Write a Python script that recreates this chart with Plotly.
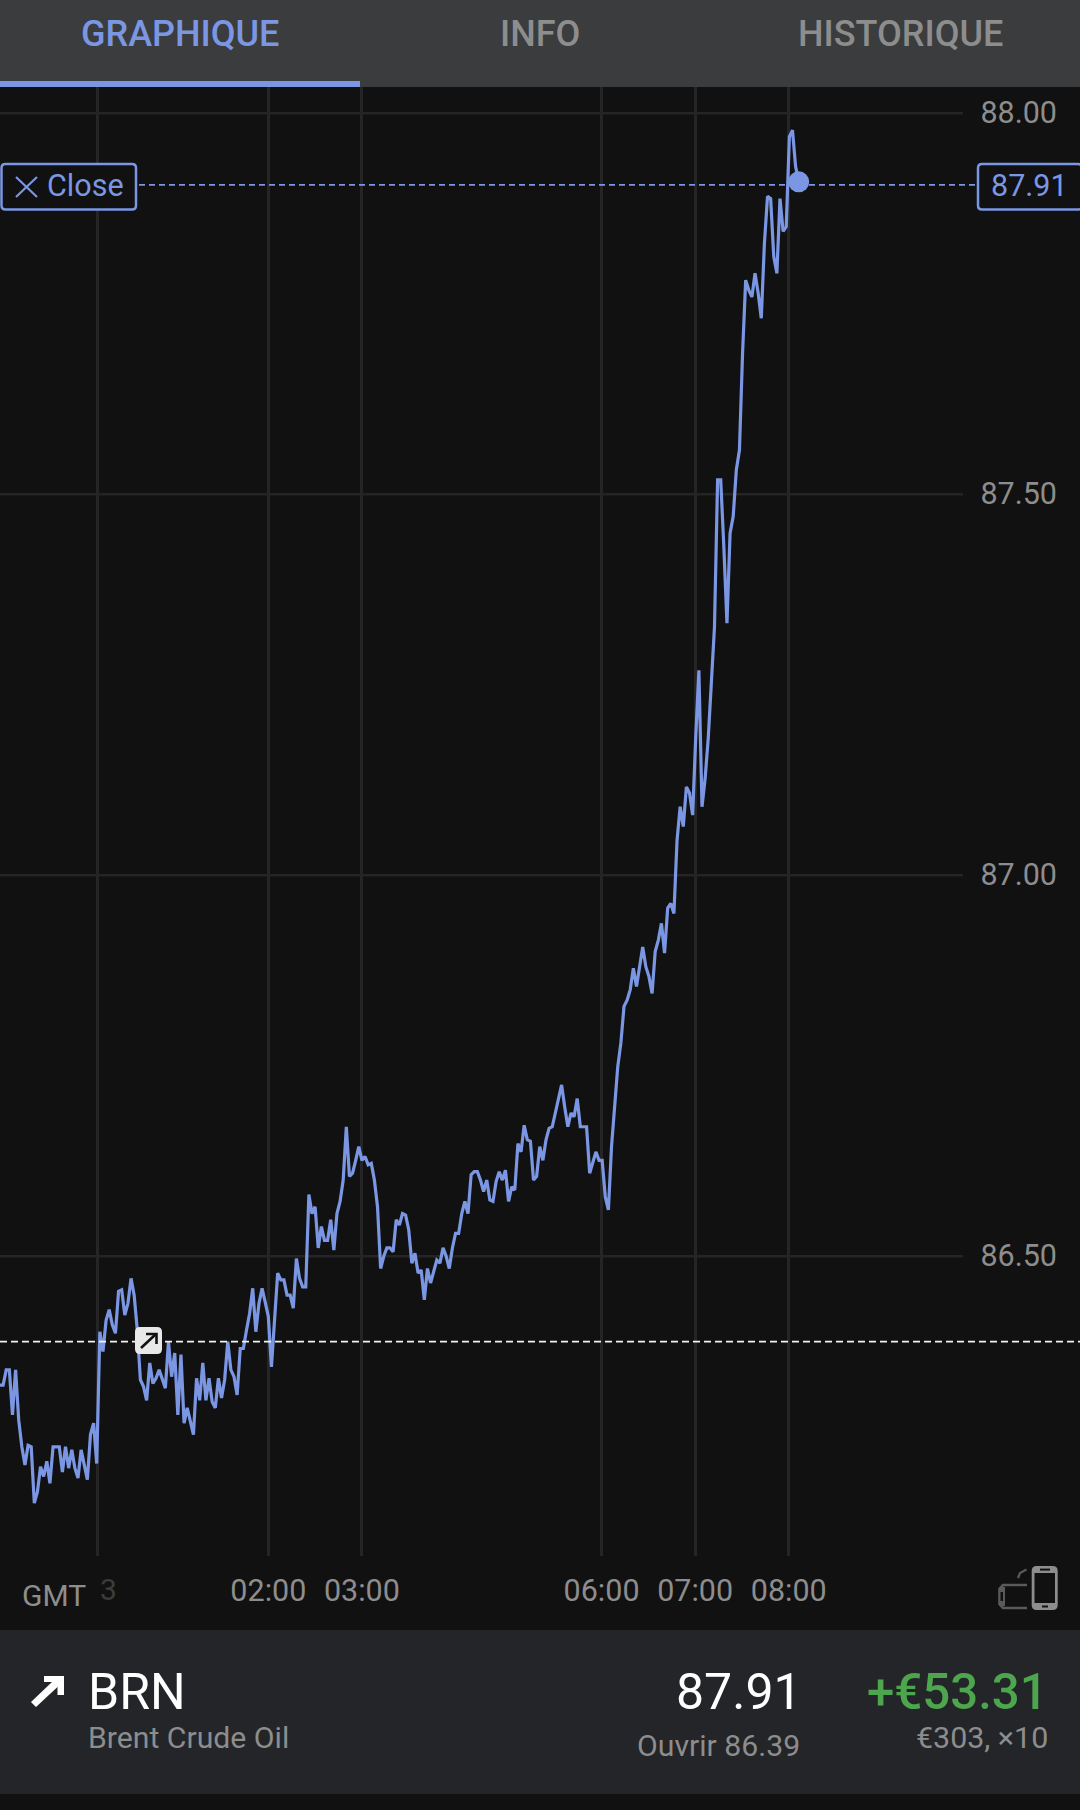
import plotly.graph_objects as go

# Brent price line, one sample every 2 minutes of chart time
price = [
    86.331, 86.331, 86.351, 86.351, 86.292, 86.351, 86.285, 86.250, 86.226, 86.252,
    86.250, 86.176, 86.191, 86.224, 86.211, 86.231, 86.202, 86.250, 86.250, 86.250,
    86.217, 86.250, 86.222, 86.246, 86.222, 86.209, 86.246, 86.226, 86.207, 86.266,
    86.281, 86.228, 86.401, 86.375, 86.416, 86.430, 86.410, 86.399, 86.454, 86.456,
    86.423, 86.438, 86.471, 86.449, 86.403, 86.338, 86.329, 86.311, 86.360, 86.333,
    86.340, 86.351, 86.338, 86.327, 86.388, 86.342, 86.373, 86.292, 86.371, 86.281,
    86.301, 86.285, 86.266, 86.340, 86.311, 86.360, 86.311, 86.340, 86.309, 86.301,
    86.340, 86.314, 86.338, 86.388, 86.351, 86.342, 86.318, 86.379, 86.379, 86.403,
    86.425, 86.458, 86.401, 86.438, 86.458, 86.440, 86.421, 86.355, 86.416, 86.478,
    86.469, 86.469, 86.449, 86.449, 86.432, 86.497, 86.471, 86.460, 86.460, 86.581,
    86.556, 86.565, 86.511, 86.539, 86.521, 86.521, 86.548, 86.508, 86.556, 86.572,
    86.600, 86.670, 86.605, 86.609, 86.626, 86.644, 86.626, 86.631, 86.620, 86.622,
    86.600, 86.565, 86.484, 86.500, 86.511, 86.511, 86.506, 86.548, 86.541, 86.556,
    86.554, 86.535, 86.491, 86.504, 86.478, 86.482, 86.443, 86.484, 86.465, 86.480,
    86.495, 86.491, 86.511, 86.500, 86.484, 86.511, 86.530, 86.530, 86.556, 86.572,
    86.556, 86.607, 86.611, 86.611, 86.600, 86.585, 86.600, 86.574, 86.572, 86.598,
    86.611, 86.600, 86.613, 86.572, 86.591, 86.587, 86.648, 86.637, 86.672, 86.653,
    86.651, 86.600, 86.605, 86.644, 86.626, 86.653, 86.668, 86.670, 86.688, 86.710,
    86.725, 86.696, 86.670, 86.688, 86.683, 86.707, 86.670, 86.670, 86.670, 86.609,
    86.622, 86.637, 86.626, 86.626, 86.578, 86.561, 86.644, 86.700, 86.749, 86.780,
    86.828, 86.836, 86.850, 86.878, 86.854, 86.880, 86.906, 86.880, 86.867, 86.845,
    86.900, 86.915, 86.937, 86.898, 86.957, 86.963, 86.950, 87.046, 87.090, 87.064,
    87.116, 87.108, 87.079, 87.182, 87.269, 87.090, 87.127, 87.180, 87.248, 87.326,
    87.519, 87.519, 87.431, 87.331, 87.449, 87.471, 87.532, 87.558, 87.685, 87.781,
    87.768, 87.759, 87.790, 87.764, 87.731, 87.829, 87.891, 87.888, 87.812, 87.790,
    87.888, 87.845, 87.851, 87.969, 87.978, 87.930, 87.910,
]
sample = list(range(len(price)))

time_ticks = [31.3, 86, 116, 192.8, 222.8, 252.8]
time_labels = ["", "02:00", "03:00", "06:00", "07:00", "08:00"]
price_ticks = [86.5, 87.0, 87.5, 88.0]
price_labels = ["86.50", "87.00", "87.50", "88.00"]
close_level = 87.906
open_level = 86.388

W, H = 1080, 1810
BLUE = "#7b97e3"
BG = "#111112"
BAR = "#3b3c3e"
PANEL = "#232528"
GREY = "#8d8d8d"
GRID = "#252525"
FONT = "Roboto"


def px(x):
    return x / W


def py(y):
    return 1 - y / H


def box(x0, y0, x1, y1, fill, layer="above", line=None):
    return dict(type="rect", xref="paper", yref="paper", x0=px(x0), x1=px(x1), y0=py(y1), y1=py(y0),
                fillcolor=fill, line=line or dict(width=0), layer=layer)


def draw(points, fill=None, color=None, width=0, closed=True):
    d = "M" + " L".join(f"{px(x):.5f},{py(y):.5f}" for x, y in points) + (" Z" if closed else "")
    return dict(type="path", xref="paper", yref="paper", path=d, fillcolor=fill or "rgba(0,0,0,0)",
                line=dict(color=color or "rgba(0,0,0,0)", width=width), layer="above")


def rounded(x0, y0, x1, y1, r, fill=None, color=None, width=0):
    d = (f"M{px(x0 + r):.5f},{py(y0):.5f} L{px(x1 - r):.5f},{py(y0):.5f} "
         f"Q{px(x1):.5f},{py(y0):.5f} {px(x1):.5f},{py(y0 + r):.5f} L{px(x1):.5f},{py(y1 - r):.5f} "
         f"Q{px(x1):.5f},{py(y1):.5f} {px(x1 - r):.5f},{py(y1):.5f} L{px(x0 + r):.5f},{py(y1):.5f} "
         f"Q{px(x0):.5f},{py(y1):.5f} {px(x0):.5f},{py(y1 - r):.5f} L{px(x0):.5f},{py(y0 + r):.5f} "
         f"Q{px(x0):.5f},{py(y0):.5f} {px(x0 + r):.5f},{py(y0):.5f} Z")
    return dict(type="path", xref="paper", yref="paper", path=d, fillcolor=fill or "rgba(0,0,0,0)",
                line=dict(color=color or "rgba(0,0,0,0)", width=width), layer="above")


def label(x, y, text, size, color=GREY, anchor="left", weight=None):
    font = dict(family=FONT, size=size, color=color)
    if weight:
        font["weight"] = weight
    return dict(xref="paper", yref="paper", x=px(x), y=py(y), text=text, showarrow=False,
                xanchor=anchor, yanchor="middle", font=font)


fig = go.Figure()
fig.add_trace(go.Scatter(x=sample, y=price, mode="lines", line=dict(color=BLUE, width=3.2),
                         hoverinfo="skip", showlegend=False))
fig.add_trace(go.Scatter(x=sample[-1:], y=price[-1:], mode="markers",
                         marker=dict(color=BLUE, size=21), hoverinfo="skip", showlegend=False))

# horizontal grid stops before the price labels, so it can't be the axis grid
grid_lines = [dict(type="line", xref="paper", yref="y", x0=0, x1=px(963), y0=p, y1=p,
                   line=dict(color=GRID, width=2.5), layer="below") for p in price_ticks]

shapes = grid_lines + [
    # level lines
    dict(type="line", xref="paper", yref="y", x0=px(139), x1=px(978), y0=close_level, y1=close_level,
         line=dict(color=BLUE, width=1.6, dash="6px,4px"), layer="above"),
    dict(type="line", xref="paper", yref="y", x0=0, x1=1, y0=open_level, y1=open_level,
         line=dict(color="#f2f2f2", width=1.6, dash="7px,4px"), layer="above"),
    # tabs
    box(0, 0, 1080, 87, BAR),
    box(0, 81, 360, 87, BLUE),
    # close button and price tag
    rounded(1.5, 164, 136, 209.5, 4, fill=BG, color=BLUE, width=2.5),
    rounded(978, 164, 1082, 209.5, 4, fill=BG, color=BLUE, width=2.5),
    draw([(16, 177), (37, 197)], color=BLUE, width=2.2, closed=False),
    draw([(37, 177), (16, 197)], color=BLUE, width=2.2, closed=False),
    # badge on the open line
    rounded(135, 1327, 162, 1354, 5, fill="#e8e8e8"),
    draw([(141, 1348), (156, 1334)], color="#111112", width=2.6, closed=False),
    draw([(146, 1334), (156.5, 1334), (156.5, 1344)], color="#111112", width=2.6, closed=False),
    # bottom panel
    box(0, 1630, 1080, 1794, PANEL),
    draw([(44, 1676), (64, 1676), (64, 1695), (57.5, 1695), (57.5, 1687), (36, 1707), (31, 1702),
          (52, 1682), (44, 1682)], fill="#ffffff"),
    # rotate phone icon
    rounded(1031.7, 1566, 1057.7, 1610, 5, fill=GREY),
    box(1034.5, 1573, 1055, 1603, BG),
    draw([(1040, 1569.6), (1050, 1569.6)], color=BG, width=2, closed=False),
    draw([(1042, 1606.5), (1048, 1606.5)], color=BG, width=2, closed=False),
    draw([(1027, 1585), (1003, 1585), (999.5, 1589), (999.5, 1604), (1003, 1608), (1027, 1608)],
         color="#5a5a5a", width=2.6, closed=False),
    box(999, 1587, 1005, 1606, "#5a5a5a"),
    box(1000.5, 1592, 1003, 1601, BG),
    draw([(1018, 1578), (1020, 1573), (1026.5, 1569.5)], color="#5a5a5a", width=2.2, closed=False),
]

annotations = [
    label(180, 34, "GRAPHIQUE", 36, color=BLUE, anchor="center", weight=500),
    label(540, 34, "INFO", 36, anchor="center", weight=500),
    label(900, 34, "HISTORIQUE", 36, anchor="center", weight=500),
    label(44.5, 185, "Close", 30.5, color=BLUE),
    label(1070, 185, "87.91", 30.5, color=BLUE, anchor="right"),
    label(19.7, 1595, "GMT", 30),
    label(98, 1589, "3", 30, color="#3c3c3c"),
    label(86, 1692, "BRN", 50, color="#ffffff"),
    label(86, 1737, "Brent Crude Oil", 30.2),
    label(804, 1692, "87.91", 50, color="#ffffff", anchor="right"),
    label(802, 1745, "Ouvrir 86.39", 30.2, anchor="right"),
    label(1050, 1692, "+€53.31", 49.2, color="#4da64d", anchor="right", weight=500),
    label(1050, 1737, "€303, ×10", 30.4, anchor="right"),
]

fig.update_layout(
    width=W, height=H, margin=dict(l=0, r=0, t=0, b=0),
    paper_bgcolor=BG, plot_bgcolor=BG,
    font=dict(family=FONT, color=GREY, size=30),
    showlegend=False, shapes=shapes, annotations=annotations,
    xaxis=dict(domain=[0, 1], range=[0, W / 3.12], tickmode="array", tickvals=time_ticks, ticktext=time_labels,
               tickfont=dict(family=FONT, size=30.5, color=GREY),
               showgrid=True, gridcolor=GRID, gridwidth=2.5, zeroline=False, showline=False,
               ticks="outside", ticklen=7.5, tickcolor="rgba(0,0,0,0)", fixedrange=True),
    yaxis=dict(domain=[py(1556), py(87)], range=[86.1067, 88.0345], side="right", tickmode="array",
               tickvals=price_ticks, ticktext=price_labels, ticklabelposition="inside",
               tickfont=dict(family=FONT, size=30.5, color=GREY),
               ticks="", ticklabelstandoff=20, ticklabelshift=-1,
               showgrid=False, zeroline=False, showline=False, fixedrange=True),
)

fig.write_html("out.html", config={"displayModeBar": False},
               post_script="document.body.style.margin='0';document.body.style.overflow='hidden';")
